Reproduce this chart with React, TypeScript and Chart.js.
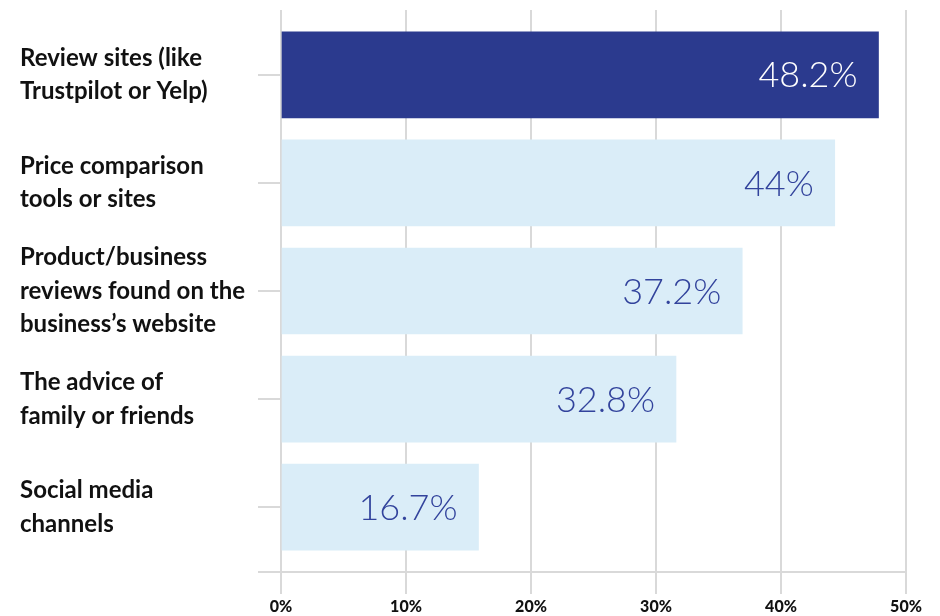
import React, { useEffect, useRef } from "react";
import { Chart, registerables } from "chart.js";

Chart.register(...registerables);

const categories: string[][] = [
  ["Review sites (like", "Trustpilot or Yelp)"],
  ["Price comparison", "tools or sites"],
  ["Product/business", "reviews found on the", "business\u2019s website"],
  ["The advice of", "family or friends"],
  ["Social media", "channels"],
];
const barValues: number[] = [47.8, 44.3, 36.9, 31.6, 15.8];
const valueLabels: string[] = ["48.2%", "44%", "37.2%", "32.8%", "16.7%"];
const xTicks: number[] = [0, 10, 20, 30, 40, 50];

const DARK = "#2b3a8e";
const LIGHT = "#daedf8";
const GRID = "#d9d9d9";

const valueLabelPlugin = {
  id: "valueLabels",
  afterDatasetsDraw(chart: any) {
    const meta = chart.getDatasetMeta(0);
    const ctx = chart.ctx;
    ctx.save();
    ctx.font = "300 36px Lato";
    ctx.textAlign = "right";
    ctx.textBaseline = "middle";
    meta.data.forEach((el: any, i: number) => {
      ctx.fillStyle = i === 0 ? "#ffffff" : "#32439c";
      ctx.fillText(valueLabels[i], el.x - 21, el.y + 1);
    });
    ctx.restore();
  },
};

export default function App() {
  const ref = useRef<HTMLCanvasElement | null>(null);
  useEffect(() => {
    if (!ref.current) return;
    Chart.defaults.font.family = "Lato";
    const yMin = -0.6;
    const yMax = categories.length - 0.4;
    const chart = new Chart(ref.current, {
      type: "bar",
      data: {
        datasets: [
          {
            data: barValues.map((v, i) => ({ x: v, y: i })),
            backgroundColor: barValues.map((_, i) => (i === 0 ? DARK : LIGHT)),
            barThickness: 86,
            borderWidth: 0,
          },
        ],
      },
      options: {
        indexAxis: "y",
        animation: false,
        responsive: true,
        maintainAspectRatio: false,
        layout: { padding: { left: 20, right: 34, top: 10, bottom: 0 } },
        plugins: { legend: { display: false }, tooltip: { enabled: false } },
        scales: {
          x: {
            type: "linear",
            min: xTicks[0],
            max: xTicks[xTicks.length - 1],
            offset: false,
            afterBuildTicks: (scale: any) => {
              scale.ticks = xTicks.map((v) => ({ value: v }));
            },
            afterFit: (scale: any) => {
              scale.height = 44;
              scale.paddingLeft = 0;
              scale.paddingRight = 0;
            },
            border: { display: false },
            grid: { color: GRID, lineWidth: 2, tickLength: 22, offset: false },
            ticks: {
              padding: 3,
              color: "#111111",
              font: { family: "Lato", size: 16, weight: 900 },
              callback: (v: any) => v + "%",
            },
          },
          y: {
            type: "linear",
            reverse: true,
            min: yMin,
            max: yMax,
            offset: false,
            afterBuildTicks: (scale: any) => {
              scale.ticks = categories.map((_, i) => ({ value: i })).concat([{ value: yMax }]);
            },
            afterFit: (scale: any) => {
              scale.width = 261;
              scale.paddingTop = 0;
              scale.paddingBottom = 0;
            },
            border: { display: false },
            grid: {
              offset: false,
              color: (c: any) => (c.tick && c.tick.value === yMax ? GRID : "rgba(0,0,0,0)"),
              tickColor: GRID,
              lineWidth: 2,
              tickLength: 23,
            },
            ticks: {
              autoSkip: false,
              crossAlign: "far",
              color: "#111111",
              font: { family: "Lato", size: 24, weight: "bold", lineHeight: 1.4 },
              callback: (v: any) => (Number.isInteger(v) && categories[v] ? categories[v] : ""),
            },
          },
        },
      } as any,
      plugins: [valueLabelPlugin],
    });
    return () => chart.destroy();
  }, []);
  return (
    <div style={{ position: "fixed", left: 0, top: 0, width: 940, height: 616, background: "#ffffff" }}>
      <canvas ref={ref} />
    </div>
  );
}
